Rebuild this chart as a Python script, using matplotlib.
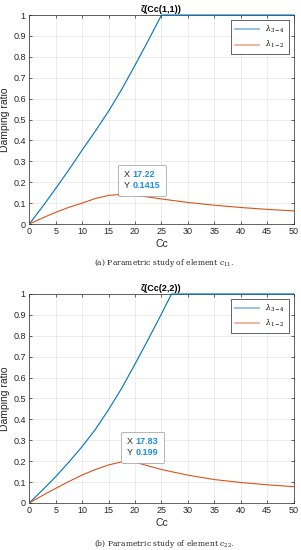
import numpy as np
import matplotlib
matplotlib.use("Agg")
import matplotlib.pyplot as plt
from matplotlib.offsetbox import TextArea, HPacker, VPacker, AnnotationBbox
from matplotlib.lines import Line2D

plt.rcParams['font.family'] = ['Liberation Sans', 'DejaVu Sans']
plt.rcParams['mathtext.fontset'] = 'dejavuserif'

cc_blue1 = [0, 2.5, 5, 7.5, 10, 12.5, 15, 17.5, 20, 22.5, 25.0, 50]
zeta_blue1 = [0, 0.083, 0.17, 0.26, 0.354, 0.445, 0.54, 0.645, 0.76, 0.878, 1.0, 1.0]
cc_red1 = [0, 2.5, 5, 7.5, 10, 12.5, 15, 17.22, 20, 25, 30, 35, 40, 45, 50]
zeta_red1 = [0, 0.029, 0.056, 0.08, 0.1, 0.122, 0.137, 0.1415, 0.138, 0.12, 0.103, 0.09, 0.079, 0.07, 0.063]

cc_blue2 = [0, 2.5, 5, 7.5, 10, 12.5, 15, 17.5, 20, 22.5, 25, 26.9, 50]
zeta_blue2 = [0, 0.062, 0.126, 0.196, 0.27, 0.352, 0.447, 0.55, 0.665, 0.783, 0.905, 1.0, 1.0]
cc_red2 = [0, 2.5, 5, 7.5, 10, 12.5, 15, 17.83, 20, 25, 30, 35, 40, 45, 50]
zeta_red2 = [0, 0.036, 0.07, 0.103, 0.134, 0.16, 0.182, 0.199, 0.195, 0.16, 0.133, 0.112, 0.098, 0.087, 0.078]

tips = [(17.22, 0.1415, "17.22", "0.1415"), (17.83, 0.199, "17.83", "0.199")]
titles = [r"ζ(Cc(1,1))", r"ζ(Cc(2,2))"]
captions = [("(a)", r"Parametric study of element $c_{11}$."),
            ("(b)", r"Parametric study of element $c_{22}$.")]

blue = "#0072BD"
orange = "#D95319"
tipblue = "#1f8fe0"

fig = plt.figure(figsize=(3.01, 5.5), dpi=100)
axes = [fig.add_axes([0.0973, 0.5927, 0.8784, 0.38]),
        fig.add_axes([0.0973, 0.0855, 0.8784, 0.38])]

data = [(cc_blue1, zeta_blue1, cc_red1, zeta_red1),
        (cc_blue2, zeta_blue2, cc_red2, zeta_red2)]

for i, ax in enumerate(axes):
    xb, yb, xr, yr = data[i]
    ax.plot(xb, yb, color=blue, lw=0.8, clip_on=False, zorder=3)
    ax.plot(xr, yr, color=orange, lw=0.8, zorder=3)
    ax.set_xlim(0, 50)
    ax.set_ylim(0, 1)
    ax.set_xticks(np.arange(0, 51, 5))
    ax.set_yticks(np.arange(0, 1.01, 0.1))
    ax.set_yticklabels(["0"] + ["%.1f" % v for v in np.arange(0.1, 0.95, 0.1)] + ["1"])
    ax.grid(True, color="#e6e6e6", lw=0.5)
    ax.set_axisbelow(True)
    ax.tick_params(direction="in", length=2, width=0.5, labelsize=6.5,
                   colors="#262626", top=True, right=True, pad=2.5)
    for s in ax.spines.values():
        s.set_color("#262626")
        s.set_linewidth(0.5)
    ax.set_title(titles[i], fontsize=6.5, fontweight="bold", pad=2)
    ax.set_xlabel("Cc", fontsize=7.5, labelpad=2, color="#262626")
    ax.set_ylabel("Damping ratio", fontsize=7.5, labelpad=2, color="#262626")

    hs = [Line2D([], [], color=blue, lw=1.2, alpha=0.5),
          Line2D([], [], color=orange, lw=1.2, alpha=0.5)]
    leg = ax.legend(hs, [r"$\lambda_{3-4}$", r"$\lambda_{1-2}$"],
                    loc="upper right", fontsize=5.5, handlelength=3.2,
                    fancybox=False, framealpha=1, edgecolor="#262626",
                    borderaxespad=0.6, labelspacing=0.6, borderpad=0.5)
    leg.get_frame().set_linewidth(0.5)

    tx, ty, sx, sy = tips[i]
    ax.plot([tx], [ty], "o", color="black", ms=2, zorder=4)
    row1 = HPacker(children=[TextArea("X", textprops=dict(fontsize=6.5, color="#262626")),
                             TextArea(sx, textprops=dict(fontsize=6.5, color=tipblue, fontweight="bold"))],
                   sep=2, pad=0)
    row2 = HPacker(children=[TextArea("Y", textprops=dict(fontsize=6.5, color="#262626")),
                             TextArea(sy, textprops=dict(fontsize=6.5, color=tipblue, fontweight="bold"))],
                   sep=2, pad=0)
    box = VPacker(children=[row1, row2], sep=1.5, pad=0)
    ab = AnnotationBbox(box, (tx, ty), xybox=(2.5, 3), boxcoords="offset points",
                        box_alignment=(0, 0), frameon=True, pad=0.4,
                        bboxprops=dict(edgecolor="#999999", facecolor="white",
                                       lw=0.5, boxstyle="round,pad=0.4,rounding_size=0.1"))
    ab.set_zorder(5)
    ax.add_artist(ab)

cap_y = [1 - 263 / 550, 1 - 544 / 550]
for i, (lab, txt) in enumerate(captions):
    fig.text(0.545, cap_y[i], lab + " " + txt, fontsize=5.5, family="DejaVu Serif",
             ha="center", va="center", color="#222222")

fig.savefig("out.png", dpi=100)
